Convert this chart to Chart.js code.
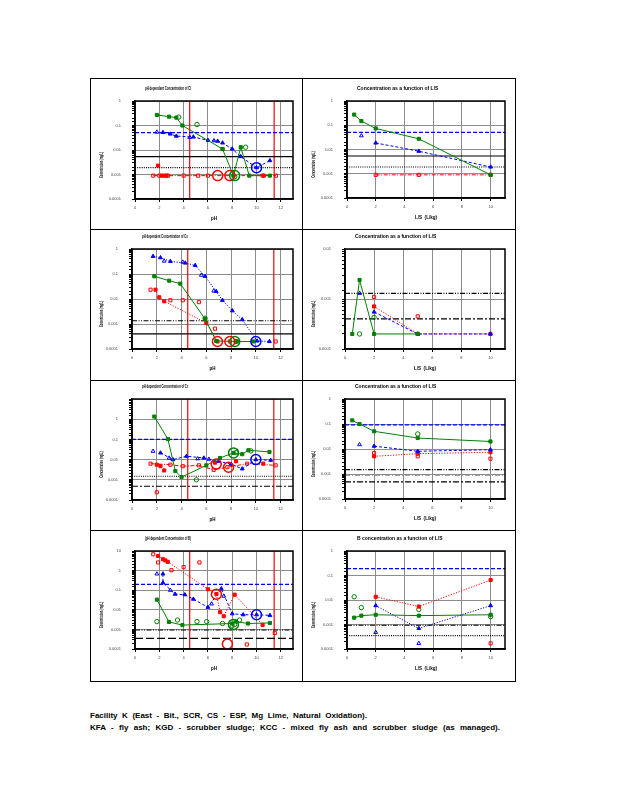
<!DOCTYPE html>
<html>
<head>
<meta charset="utf-8">
<script src="https://cdn.jsdelivr.net/npm/chart.js@4.4.0/dist/chart.umd.min.js"></script>
<style>
  body { margin: 0; background: #fff; }
  .cell { position: absolute; border: 1px solid #000; box-sizing: border-box; }
  canvas { position: absolute; }
  .note { position: absolute; left: 90px; font: bold 8px "Liberation Sans Narrow", "Liberation Sans", Arial, sans-serif;
          text-align: justify; text-align-last: justify; white-space: nowrap; color: #000; }
</style>
</head>
<body>
<div class="note" style="top:711px;width:277px;white-space:normal">Facility K (East - Bit., SCR, CS - ESP, Mg Lime, Natural Oxidation).</div>
<div class="note" style="top:723px;width:410px;white-space:normal">KFA - fly ash; KGD - scrubber sludge; KCC - mixed fly ash and scrubber sludge (as managed).</div>
<script>
// axis ticks
const phTicks = [0, 2, 4, 6, 8, 10, 12];
const lsTicks = [0, 2, 4, 6, 8, 10];
const redLinePh = [4.5, 11.45];

// ---- panel 1 : pH, row 1
const p1GreenFilled = [[1.8,0.27],[2.8,0.23],[3.4,0.21],[3.9,0.1],[7.2,0.011],[8.1,0.0009],[8.7,0.013],[9.4,0.0009],[11.1,0.0009]];
const p1GreenOpen = [[3.6,0.22],[5.1,0.11],[8.2,0.0008],[9.1,0.013]];
const p1BlueFilled = [[2.3,0.052],[2.9,0.045],[3.4,0.037],[4.8,0.034],[6.0,0.025],[6.8,0.023],[7.2,0.0195],[8.0,0.011],[8.7,0.0054],[10.0,0.0019],[11.1,0.0037]];
const p1BlueOpen = [[1.8,0.054],[4.5,0.033],[6.5,0.024]];
const p1RedFilled = [[1.9,0.0023],[2.2,0.0009],[2.4,0.0009],[2.6,0.0009],[7.2,0.011],[10.6,0.0009]];
const p1RedOpen = [[1.5,0.0009],[2.0,0.0009],[2.7,0.0009],[4.0,0.0009],[5.2,0.0009],[6.0,0.0009],[10.5,0.0009],[11.6,0.0009]];
const p1RedNatural = [[6.8,0.0009],[7.8,0.0009]];
const p1GreenNatural = [[8.2,0.0009]];
const p1BlueNatural = [[10.0,0.0019]];
const p1Refs = [0.051, 0.0054, 0.0019];

// ---- panel 2 : L/S, row 1
const p2GreenFilled = [[0.5,0.275],[1,0.148],[2,0.074],[5,0.0275],[10,0.0009]];
const p2BlueFilled = [[2,0.0186],[5,0.0085],[10,0.0019]];
const p2BlueOpen = [[1,0.037]];
const p2RedFilled = [[2,0.0009],[5,0.0009],[10,0.0009]];
const p2Refs = [0.051, 0.0054, 0.0019];

// ---- panel 3 : pH, row 2
const p3BlueFilled = [[1.7,0.51],[2.3,0.45],[3.1,0.32],[4.3,0.275],[5.1,0.22],[5.9,0.081],[6.8,0.02],[7.3,0.0089],[8.1,0.0034],[8.9,0.0015],[10.1,0.00021],[11.1,0.0002]];
const p3BlueOpen = [[2.6,0.33],[4.1,0.3],[5.6,0.09],[6.6,0.021]];
const p3GreenFilled = [[1.8,0.081],[3.0,0.054],[3.9,0.041],[5.9,0.0016],[6.8,0.00021],[8.5,0.0002],[9.8,0.0002]];
const p3GreenOpen = [[5.9,0.0017],[8.4,0.0002]];
const p3RedFilled = [[1.9,0.0235],[2.2,0.0117],[2.6,0.0081],[6.0,0.0011],[6.9,0.0002]];
const p3RedOpen = [[1.5,0.0235],[3.1,0.0089],[4.1,0.0089],[5.4,0.0075],[6.7,0.00065],[7.9,0.0002],[11.6,0.0002]];
const p3RedNatural = [[6.9,0.0002],[7.9,0.0002]];
const p3GreenNatural = [[8.3,0.0002]];
const p3BlueNatural = [[10.0,0.0002]];
const p3Refs = [0.00135, 0.0004];

// ---- panel 4 : L/S, row 2
const p4GreenFilled = [[0.5,0.0002],[1,0.0024],[2,0.0002],[5,0.0002]];
const p4GreenOpen = [[1,0.0002],[2,0.00043]];
const p4BlueFilled = [[2,0.00055],[5,0.0002],[10,0.0002]];
const p4BlueOpen = [[1,0.0013]];
const p4RedFilled = [[2,0.00071],[5,0.0002],[10,0.0002]];
const p4RedOpen = [[2,0.0011],[5,0.00045]];
const p4Refs = [0.0013, 0.0004];

// ---- panel 5 : pH, row 3
const p5GreenFilled = [[1.8,1.35],[2.9,0.104],[3.5,0.0027],[4.0,0.00136],[6.0,0.0052],[7.1,0.012],[8.2,0.0215],[8.9,0.0185],[9.4,0.029],[11.1,0.024]];
const p5GreenOpen = [[5.2,0.001],[9.6,0.027],[8.4,0.022]];
const p5BlueFilled = [[2.3,0.0215],[3.3,0.01],[4.4,0.0147],[5.8,0.012],[7.0,0.0083],[8.0,0.0059],[8.9,0.0035],[10.0,0.01],[11.2,0.0093]];
const p5BlueOpen = [[1.7,0.026],[3.0,0.012],[5.3,0.011],[6.2,0.0105]];
const p5RedFilled = [[2.0,0.0056],[2.3,0.0047],[2.6,0.0029],[6.7,0.0071],[8.4,0.0083],[10.6,0.0063]];
const p5RedOpen = [[1.5,0.0063],[3.1,0.0056],[4.1,0.0047],[5.4,0.0052],[6.6,0.0031],[7.7,0.0042],[9.3,0.0063],[11.6,0.0052]];
const p5RedOutlier = [[2.0,0.00024]];
const p5RedNatural = [[6.8,0.006],[7.8,0.0042]];
const p5GreenNatural = [[8.2,0.0215]];
const p5BlueNatural = [[10.0,0.01]];
const p5Refs = [0.1, 0.0015, 0.00048];

// ---- panel 6 : L/S, row 3
const p6GreenFilled = [[0.5,0.14],[1,0.10],[2,0.051],[5,0.0275],[10,0.02]];
const p6GreenOpen = [[5,0.04]];
const p6BlueFilled = [[2,0.013],[5,0.0081],[10,0.0094]];
const p6BlueOpen = [[1,0.015]];
const p6RedFilled = [[2,0.0051],[5,0.0065],[10,0.0074]];
const p6RedOpen = [[2,0.0069],[5,0.0051],[10,0.0041]];
const p6Refs = [0.093, 0.0015, 0.00089, 0.00048];

// ---- panel 7 : pH, row 4
const p7RedFilled = [[1.9,5.6],[2.3,3.8],[2.5,3.3],[2.7,2.8],[6.0,0.112],[6.7,0.063],[7.0,0.0076],[7.3,0.0047],[8.2,0.059],[10.5,0.0017]];
const p7RedOpen = [[1.5,6.8],[1.9,2.6],[3.0,1.05],[4.0,1.5],[5.3,2.6],[11.5,0.00066],[9.2,0.00017]];
const p7BlueFilled = [[2.3,0.68],[2.3,0.24],[3.3,0.063],[4.1,0.059],[4.8,0.035],[6.0,0.0135],[7.1,0.12],[8.0,0.0063],[8.9,0.0056],[10.0,0.0056],[11.1,0.0052]];
const p7BlueOpen = [[1.8,0.68],[2.9,0.1],[6.3,0.02],[7.3,0.05]];
const p7GreenFilled = [[1.8,0.033],[2.8,0.0024],[3.9,0.00166],[8.0,0.002],[8.3,0.0025],[9.3,0.002],[11.1,0.00214]];
const p7GreenOpen = [[1.8,0.0025],[3.5,0.003],[5.1,0.0025],[5.9,0.0025],[7.2,0.002],[8.6,0.003],[8.0,0.0015],[8.2,0.0018]];
const p7RedNatural = [[6.7,0.063],[7.6,0.00018]];
const p7GreenNatural = [[8.1,0.0018]];
const p7BlueNatural = [[10.0,0.0056]];
const p7Refs = [0.2, 0.00093, 0.00035];

// ---- panel 8 : L/S, row 4
const p8RedFilled = [[2,0.0135],[5,0.0054],[10,0.065]];
const p8RedOpen = [[10,0.00017]];
const p8BlueFilled = [[2,0.0059],[5,0.00069],[10,0.0059]];
const p8BlueOpen = [[2,0.00048],[5,0.00017]];
const p8GreenFilled = [[0.5,0.0019],[1,0.0023],[2,0.0025],[5,0.0023],[10,0.0025]];
const p8GreenOpen = [[0.5,0.0135],[1,0.0049],[5,0.0041],[10,0.0021]];
const p8Refs = [0.19, 0.00093, 0.00035];

const GREEN = '#008000', BLUE = '#0000ff', RED = '#ff0000';

const markerStyles = {
    gf: { color: GREEN, shape: 'rect', fill: true, dash: [] },
    go: { color: GREEN, shape: 'circle', fill: false, dash: [] },
    bf: { color: BLUE, shape: 'triangle', fill: true, dash: [3, 2] },
    bd: { color: BLUE, shape: 'triangle', fill: true, dash: [1.2, 1.5] },
    bo: { color: BLUE, shape: 'triangle', fill: false, dash: [] },
    rf: { color: RED, shape: 'rect', fill: true, dash: [1.2, 1.5] },
    ro: { color: RED, shape: 'rect', fill: false, dash: [4, 1.5, 1, 1.5] },
    gn: { color: GREEN, shape: 'circle', fill: false, r: 5, bw: 1.5 },
    bn: { color: BLUE, shape: 'circle', fill: false, r: 5, bw: 1.5 },
    rn: { color: RED, shape: 'circle', fill: false, r: 5, bw: 1.5 }
};

const lineStyles = {
    blueDash: { color: BLUE, dash: [4, 2], width: 1.2 },
    blackSolid: { color: '#000', dash: [], width: 1.2 },
    blackDot: { color: '#000', dash: [1, 1.2], width: 1.2 },
    blackDDD: { color: '#000', dash: [5, 1.5, 1, 1.5, 1, 1.5], width: 1.2 },
    blackDD: { color: '#000', dash: [6, 2, 2, 2], width: 1.2 },
    blackLong: { color: '#000', dash: [8, 3], width: 1.2 },
    grayDD: { color: '#888', dash: [5, 2, 1, 2], width: 1 }
};

const PH_TITLE = 'pH dependent Concentration of ';
const LS_TITLE = 'Concentration as a function of L/S';

const panels = [
    { cell: [90, 78, 213, 152], plot: [135, 101, 293, 199], kind: 'ph', yMin: 1e-4, yMax: 1, title: PH_TITLE + 'Cl',
      series: [[p1BlueNatural,'bn'],[p1GreenNatural,'gn'],[p1RedNatural,'rn'],[p1GreenFilled,'gf',1],[p1GreenOpen,'go'],[p1BlueFilled,'bf',1],[p1BlueOpen,'bo'],[p1RedFilled,'rf'],[p1RedOpen,'ro',1]],
      refs: p1Refs, refStyles: ['blueDash','blackSolid','blackDot'] },
    { cell: [302, 78, 214, 152], plot: [347, 101, 505, 198], kind: 'ls', yMin: 1e-4, yMax: 1, title: LS_TITLE,
      series: [[p2GreenFilled,'gf',1],[p2BlueFilled,'bf',1],[p2BlueOpen,'bo'],[p2RedFilled,'ro',1]],
      refs: p2Refs, refStyles: ['blueDash','blackSolid','blackDot'] },
    { cell: [90, 229, 213, 152], plot: [132, 249, 293, 349], kind: 'ph', yMin: 1e-4, yMax: 1, title: PH_TITLE + 'Co',
      series: [[p3BlueNatural,'bn'],[p3GreenNatural,'gn'],[p3RedNatural,'rn'],[p3BlueFilled,'bd',1],[p3BlueOpen,'bo'],[p3GreenFilled,'gf',1],[p3GreenOpen,'go'],[p3RedFilled,'rf',1],[p3RedOpen,'ro']],
      refs: p3Refs, refStyles: ['blackDDD','blackSolid'] },
    { cell: [302, 229, 214, 152], plot: [345, 249, 505, 349], kind: 'ls', yMin: 1e-4, yMax: 1e-2, title: LS_TITLE,
      series: [[p4GreenFilled,'gf',1],[p4GreenOpen,'go'],[p4BlueFilled,'bf',1],[p4BlueOpen,'bo'],[p4RedFilled,'rf',1],[p4RedOpen,'ro']],
      refs: p4Refs, refStyles: ['blackDDD','blackDD'] },
    { cell: [90, 380, 213, 151], plot: [132, 399, 293, 500], kind: 'ph', yMin: 1e-4, yMax: 10, hideTop: true, title: PH_TITLE + 'Cr',
      series: [[p5BlueNatural,'bn'],[p5GreenNatural,'gn'],[p5RedNatural,'rn'],[p5GreenFilled,'gf',1],[p5GreenOpen,'go'],[p5BlueFilled,'bf',1],[p5BlueOpen,'bo'],[p5RedFilled,'rf'],[p5RedOpen,'ro',1],[p5RedOutlier,'ro']],
      refs: p5Refs, refStyles: ['blueDash','blackDot','blackDD'] },
    { cell: [302, 380, 214, 151], plot: [345, 399, 505, 499], kind: 'ls', yMin: 1e-4, yMax: 1, title: LS_TITLE,
      series: [[p6GreenFilled,'gf',1],[p6GreenOpen,'go'],[p6BlueFilled,'bf',1],[p6BlueOpen,'bo'],[p6RedFilled,'rf',1],[p6RedOpen,'ro']],
      refs: p6Refs, refStyles: ['blueDash','blackDDD','grayDD','blackDD'] },
    { cell: [90, 530, 213, 152], plot: [135, 551, 293, 649], kind: 'ph', yMin: 1e-4, yMax: 10, title: '(pH dependent Concentration of B)',
      series: [[p7BlueNatural,'bn'],[p7GreenNatural,'gn'],[p7RedNatural,'rn'],[p7RedFilled,'rf',1],[p7RedOpen,'ro'],[p7BlueFilled,'bf',1],[p7BlueOpen,'bo'],[p7GreenFilled,'gf',1],[p7GreenOpen,'go']],
      refs: p7Refs, refStyles: ['blueDash','blackDDD','blackLong'] },
    { cell: [302, 530, 214, 152], plot: [347, 551, 505, 649], kind: 'ls', yMin: 1e-4, yMax: 1, title: 'B concentration as a function of L/S',
      series: [[p8RedFilled,'rf',1],[p8RedOpen,'ro'],[p8BlueFilled,'bd',1],[p8BlueOpen,'bo'],[p8GreenFilled,'gf',1],[p8GreenOpen,'go']],
      refs: p8Refs, refStyles: ['blueDash','blackDDD','blackDot'] }
];

function isDecade(v) {
    const l = Math.log10(v);
    return Math.abs(l - Math.round(l)) < 1e-6;
}

function seriesDataset(points, key, withLine) {
    const s = markerStyles[key];
    return {
        data: points.map(p => ({ x: p[0], y: p[1] })),
        showLine: !!withLine,
        borderColor: s.color,
        borderWidth: 1,
        borderDash: s.dash || [],
        pointStyle: s.shape,
        pointRadius: s.r || 2.2,
        pointBorderWidth: s.bw || 1,
        pointBorderColor: s.color,
        pointBackgroundColor: s.fill ? s.color : 'rgba(255,255,255,0)'
    };
}

function lineDataset(points, st) {
    return {
        data: points,
        showLine: true,
        borderColor: st.color,
        borderWidth: st.width,
        borderDash: st.dash,
        pointRadius: 0
    };
}

// titre, étiquettes d'axes et cadre
const panelText = {
    id: 'panelText',
    afterDraw(chart, args, opts) {
        const { ctx, chartArea: a } = chart;
        ctx.save();
        ctx.fillStyle = '#000';
        ctx.font = 'bold 5px "Liberation Sans Narrow", "Liberation Sans", Arial';
        ctx.textBaseline = 'middle';
        ctx.fillText(opts.title, a.left + 10, a.top - 12, opts.titleWidth);
        ctx.textAlign = 'center';
        ctx.fillText(opts.xLabel, (a.left + a.right) / 2, a.bottom + 20, opts.xLabelWidth);
        ctx.translate(12, (a.top + a.bottom) / 2 + 15);
        ctx.rotate(-Math.PI / 2);
        ctx.fillText('Concentration (mg/L)', 0, 0, 26);
        ctx.restore();
        ctx.save();
        ctx.strokeStyle = '#000';
        ctx.lineWidth = 1.5;
        ctx.strokeRect(a.left, a.top, a.right - a.left, a.bottom - a.top);
        ctx.restore();
    }
};

panels.forEach((p, i) => {
    const [cx, cy, cw, ch] = p.cell;
    const [pl, pt, pr, pb] = p.plot;

    const box = document.createElement('div');
    box.className = 'cell';
    Object.assign(box.style, { left: cx + 'px', top: cy + 'px', width: cw + 'px', height: ch + 'px' });
    document.body.appendChild(box);

    const canvas = document.createElement('canvas');
    canvas.width = cw; canvas.height = ch;
    Object.assign(canvas.style, { left: cx + 'px', top: cy + 'px', width: cw + 'px', height: ch + 'px' });
    document.body.appendChild(canvas);

    const isPh = p.kind === 'ph';
    const xTicks = isPh ? phTicks : lsTicks;
    const xMin = xTicks[0];
    const xMax = xTicks[xTicks.length - 1] + 1;

    const datasets = p.series.map(s => seriesDataset(s[0], s[1], s[2]));
    p.refs.forEach((v, k) => {
        datasets.push(lineDataset([{ x: xMin, y: v }, { x: xMax, y: v }], lineStyles[p.refStyles[k]]));
    });
    if (isPh) {
        redLinePh.forEach(x => {
            datasets.push(lineDataset([{ x: x, y: p.yMin }, { x: x, y: p.yMax }], { color: RED, dash: [], width: 1.2 }));
        });
    }

    new Chart(canvas.getContext('2d'), {
        type: 'scatter',
        data: { datasets },
        options: {
            responsive: false,
            animation: false,
            events: [],
            layout: { padding: { left: 0, top: pt - cy, right: (cx + cw) - pr, bottom: 0 } },
            plugins: {
                legend: { display: false },
                tooltip: { enabled: false },
                panelText: {
                    title: p.title,
                    titleWidth: isPh ? 46 : 94,
                    xLabel: isPh ? 'pH' : 'L/S  (L/kg)',
                    xLabelWidth: isPh ? 6 : 22
                }
            },
            scales: {
                x: {
                    type: 'linear',
                    min: xMin, max: xMax,
                    afterFit: s => { s.height = (cy + ch) - pb; },
                    ticks: { stepSize: 2, includeBounds: false, padding: 3, color: '#444',
                             font: { size: 4, family: '"Liberation Sans Narrow", Arial' } },
                    grid: { color: '#8c8c8c', lineWidth: 1, tickLength: 3, tickColor: '#000' },
                    border: { color: '#000', width: 1.5 }
                },
                y: {
                    type: 'logarithmic',
                    min: p.yMin, max: p.yMax,
                    afterFit: s => { s.width = pl - cx; },
                    ticks: {
                        autoSkip: false, padding: 11, color: '#444',
                        font: { size: 4, family: '"Liberation Sans Narrow", Arial' },
                        callback: v => {
                            if (!isDecade(v)) return '';
                            if (p.hideTop && v >= p.yMax * 0.999) return '';
                            return String(Number(v.toPrecision(1)));
                        }
                    },
                    grid: {
                        color: c => isDecade(c.tick.value) ? '#8c8c8c' : 'rgba(0,0,0,0)',
                        lineWidth: 1, tickLength: 3, tickColor: '#000'
                    },
                    border: { color: '#000', width: 1.5 }
                }
            }
        },
        plugins: [panelText]
    });
});
</script>
</body>
</html>
